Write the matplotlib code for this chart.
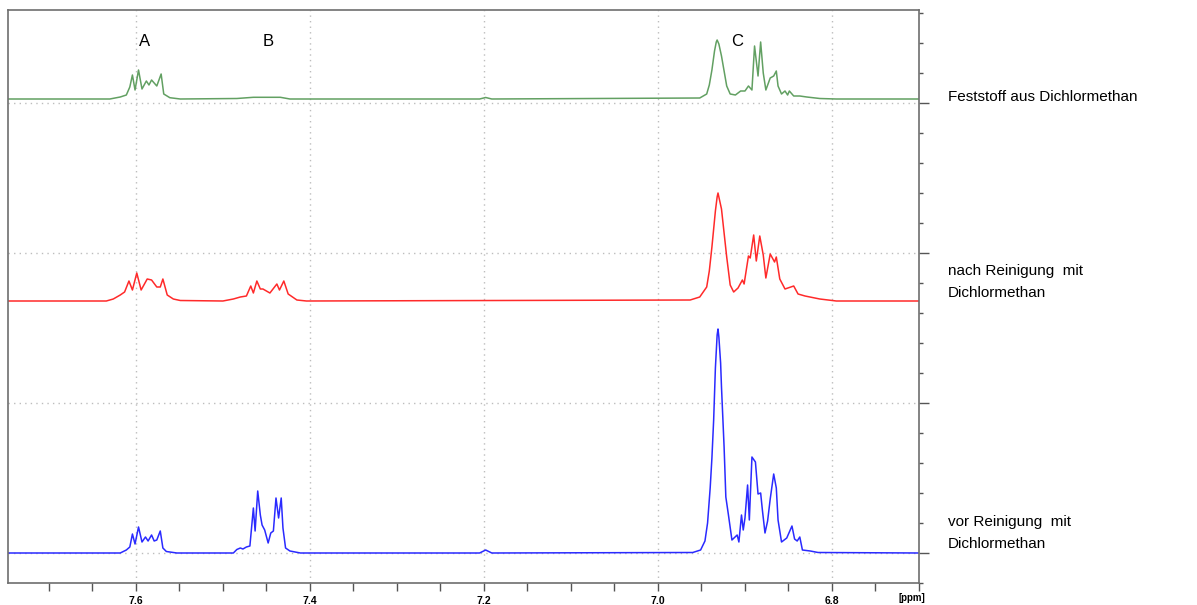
import matplotlib
matplotlib.use('Agg')
import matplotlib.pyplot as plt
from matplotlib.ticker import MultipleLocator, FuncFormatter

# 1H NMR, aromatic region; shift in ppm, intensity in arbitrary units

# vor Reinigung mit Dichlormethan
blue_ppm = [7.750, 7.618, 7.611, 7.607, 7.604, 7.601, 7.597, 7.593, 7.589, 7.586,
            7.582, 7.579, 7.576, 7.572, 7.569, 7.565, 7.553,
            7.488, 7.484, 7.480, 7.477, 7.473, 7.469, 7.465, 7.463, 7.460, 7.457,
            7.455, 7.452, 7.448, 7.445, 7.442, 7.439, 7.436, 7.433, 7.431, 7.428,
            7.423, 7.411,
            7.205, 7.198, 7.191,
            6.960, 6.951, 6.946, 6.943, 6.940, 6.938, 6.936, 6.934, 6.932, 6.931,
            6.930, 6.928, 6.927, 6.924, 6.922, 6.919, 6.915,
            6.909, 6.907, 6.904, 6.902, 6.900, 6.897, 6.895, 6.892, 6.888, 6.885,
            6.882, 6.880, 6.877, 6.874, 6.871, 6.867, 6.864, 6.862, 6.858, 6.852,
            6.846, 6.843, 6.840, 6.837, 6.834, 6.825, 6.816, 6.700]
blue_int = [0, 0, 3, 6, 19, 9, 26, 11, 16, 12,
            18, 12, 13, 22, 5, 1.5, 0,
            0, 3.5, 5, 4, 6, 7, 45, 22, 62, 38,
            28, 23, 10, 20, 22, 55, 35, 55, 25, 5,
            2, 0,
            0, 3, 0,
            0.5, 3, 12, 30, 65, 95, 133, 185, 218, 224,
            216, 190, 166, 106, 56, 38, 13,
            18, 11, 38, 23, 35, 68, 33, 96, 91, 59,
            60, 43, 20, 32, 54, 79, 65, 33, 11, 15,
            27, 14, 12, 16, 3, 2, 0.5, 0]

# nach Reinigung mit Dichlormethan
red_ppm = [7.750, 7.634, 7.626, 7.618, 7.613, 7.608, 7.604, 7.599, 7.594, 7.587,
           7.582, 7.576, 7.572, 7.569, 7.564, 7.557, 7.549,
           7.500, 7.488, 7.480, 7.473, 7.468, 7.465, 7.461, 7.457, 7.454, 7.446,
           7.438, 7.435, 7.430, 7.425, 7.415, 7.404,
           6.963, 6.952, 6.944, 6.941, 6.938, 6.934, 6.932, 6.931, 6.929, 6.927,
           6.921, 6.917, 6.913, 6.908,
           6.903, 6.901, 6.896, 6.894, 6.890, 6.887, 6.883, 6.879, 6.876, 6.871,
           6.866, 6.864, 6.860, 6.854, 6.844, 6.839, 6.831, 6.814, 6.795, 6.700]
red_int = [0, 0, 2, 6, 9, 20, 11, 28, 11, 22,
           21, 14, 14, 22, 6, 2, 0.5,
           0, 2, 4, 5, 15, 8, 20, 12, 12, 8,
           17, 11, 20, 7, 1, 0,
           1, 4, 14, 30, 54, 90, 104, 108, 100, 92,
           44, 16, 9, 13,
           21, 17, 45, 43, 66, 40, 65, 46, 23, 47,
           39, 44, 22, 12, 15, 7, 5, 2, 0, 0]

# Feststoff aus Dichlormethan
green_ppm = [7.750, 7.630, 7.618, 7.611, 7.607, 7.604, 7.601, 7.597, 7.593, 7.588,
             7.585, 7.582, 7.576, 7.571, 7.568, 7.561, 7.549,
             7.484, 7.465, 7.450, 7.434, 7.423,
             7.205, 7.198, 7.191,
             6.952, 6.944, 6.941, 6.938, 6.935, 6.933, 6.932, 6.930, 6.927, 6.921,
             6.917, 6.911, 6.905, 6.900,
             6.896, 6.892, 6.889, 6.885, 6.882, 6.879, 6.876, 6.871, 6.867, 6.864,
             6.862, 6.858, 6.854, 6.851, 6.849, 6.844, 6.837, 6.829, 6.814, 6.795,
             6.700]
green_int = [0, 0, 2, 4, 12, 24, 9, 29, 10, 18,
             14, 19, 13, 25, 5, 1.3, 0,
             0.5, 1.7, 1.7, 1.7, 0,
             0, 1.5, 0,
             1, 5, 14, 29, 48, 57, 59, 55, 43, 13,
             5, 4, 8, 8,
             13, 9, 53, 23, 57, 26, 9, 21, 23, 28,
             13, 5, 8, 4, 8, 3, 3, 2, 0.5, 0,
             0]

# vertical stacking of the traces
blue_offset = 0
red_offset = 252
green_offset = 454

labels = ['Feststoff aus Dichlormethan',
          'nach Reinigung  mit\nDichlormethan',
          'vor Reinigung  mit\nDichlormethan']
peak_names = ['A', 'B', 'C']
peak_pos = [7.590, 7.448, 6.909]

plt.rcParams['font.family'] = ['Liberation Sans', 'DejaVu Sans']

fig = plt.figure(figsize=(11.97, 6.05), dpi=100)
ax = fig.add_axes([8 / 1197, 22 / 605, 911 / 1197, 573 / 605])

ax.plot(blue_ppm, [v + blue_offset for v in blue_int], color='#2a2aff', lw=1.1)
ax.plot(red_ppm, [v + red_offset for v in red_int], color='#ff2a2a', lw=1.1)
ax.plot(green_ppm, [v + green_offset for v in green_int], color='#62a062', lw=1.1)

ax.set_xlim(7.747, 6.700)
ax.set_ylim(-30, 543)

ax.xaxis.set_major_locator(MultipleLocator(0.2))
ax.xaxis.set_minor_locator(MultipleLocator(0.05))
ax.xaxis.set_major_formatter(FuncFormatter(lambda v, p: '%.1f' % v))
ax.yaxis.set_major_locator(MultipleLocator(150))
ax.yaxis.set_minor_locator(MultipleLocator(30))
ax.yaxis.tick_right()
ax.yaxis.set_major_formatter(FuncFormatter(lambda v, p: ''))

ax.tick_params(axis='x', which='both', direction='out', length=6, width=1,
               color='#555555', labelsize=7.5, pad=3)
ax.tick_params(axis='y', which='major', direction='out', length=7, width=1, color='#555555')
ax.tick_params(axis='y', which='minor', direction='out', length=3, width=1, color='#555555')
for lab in ax.get_xticklabels():
    lab.set_fontweight('bold')

ax.grid(True, which='major', linestyle=(0, (1, 3)), color='#bdbdbd', lw=1.0)
ax.set_axisbelow(True)
for side in ['left', 'right', 'top', 'bottom']:
    ax.spines[side].set_color('#6e6e6e')
    ax.spines[side].set_linewidth(1.2)

for name, pos in zip(peak_names, peak_pos):
    ax.text(pos, 511, name, ha='center', va='center', fontsize=12)

fig.text(912 / 1197, 1 - 598 / 605, '[ppm]', ha='center', va='center',
         fontsize=7, fontweight='bold')

label_y = [97, 282, 533]
for txt, y in zip(labels, label_y):
    fig.text(948 / 1197, 1 - y / 605, txt, ha='left', va='center',
             fontsize=11, linespacing=1.7)

fig.savefig('out.png', dpi=100)
